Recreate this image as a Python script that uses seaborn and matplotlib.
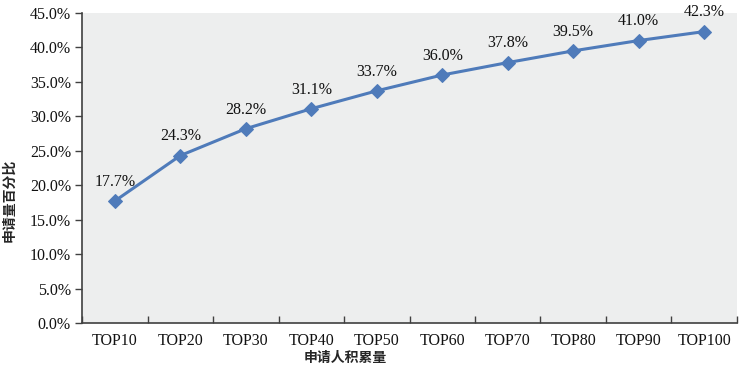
import pandas as pd
import matplotlib.pyplot as plt
import seaborn as sns
import numpy as np
from matplotlib.ticker import PercentFormatter, FixedLocator

categories = ['TOP10', 'TOP20', 'TOP30', 'TOP40', 'TOP50', 'TOP60', 'TOP70', 'TOP80', 'TOP90', 'TOP100']
share = [17.7, 24.3, 28.2, 31.1, 33.7, 36.0, 37.8, 39.5, 41.0, 42.3]

df = pd.DataFrame({'pos': np.arange(len(categories)), 'cat': categories, 'share': share})

sns.set_style('white')
plt.rcParams['font.family'] = ['Liberation Serif', 'Noto Sans CJK SC']
plt.rcParams['font.size'] = 11.5

fig = plt.figure(figsize=(7.47, 3.71), dpi=100)
ax = fig.add_axes([0.1098, 0.1294, 0.8768, 0.8356])
ax.set_facecolor('#EDEEEE')

blue = '#4F7BBA'
sns.lineplot(x='pos', y='share', data=df, ax=ax, color=blue, linewidth=2.2,
             marker='D', markersize=7, markeredgecolor=blue)

for x, y in zip(df['pos'], df['share']):
    ax.annotate(f'{y:.1f}%', (x, y), xytext=(0, 8), textcoords='offset points',
                ha='center', va='bottom', fontsize=11.5, color='#111111')

ax.set_xlim(-0.5, len(categories) - 0.5)
ax.set_ylim(0, 45)
ax.set_yticks(np.arange(0, 45.1, 5))
ax.yaxis.set_major_formatter(PercentFormatter(decimals=1))
ax.set_xticks(df['pos'])
ax.set_xticklabels(categories)
ax.xaxis.set_minor_locator(FixedLocator(np.arange(-0.5, len(categories), 1.0)))
ax.tick_params(axis='x', which='major', bottom=True, length=0, pad=7, labelsize=11.5, labelcolor='#111111')
ax.tick_params(axis='x', which='minor', bottom=True, direction='in', length=5, width=1, color='#404040')
ax.tick_params(axis='y', left=True, direction='out', length=5, width=1, color='#404040',
               labelsize=11.5, pad=3, labelcolor='#111111')

for s in ['top', 'right']:
    ax.spines[s].set_visible(False)
for s in ['left', 'bottom']:
    ax.spines[s].set_color('#404040')
    ax.spines[s].set_linewidth(1.2)

ax.set_xlabel('')
ax.set_ylabel('')
fig.text(0.013, 0.46, '申请量百分比', rotation=90, ha='center', va='center',
         fontsize=10, fontweight='bold', family=['Noto Sans CJK SC'])
fig.text(0.462, 0.035, '申请人积累量', ha='center', va='center',
         fontsize=10, fontweight='bold', family=['Noto Sans CJK SC'])

fig.savefig('out.png', dpi=100)
